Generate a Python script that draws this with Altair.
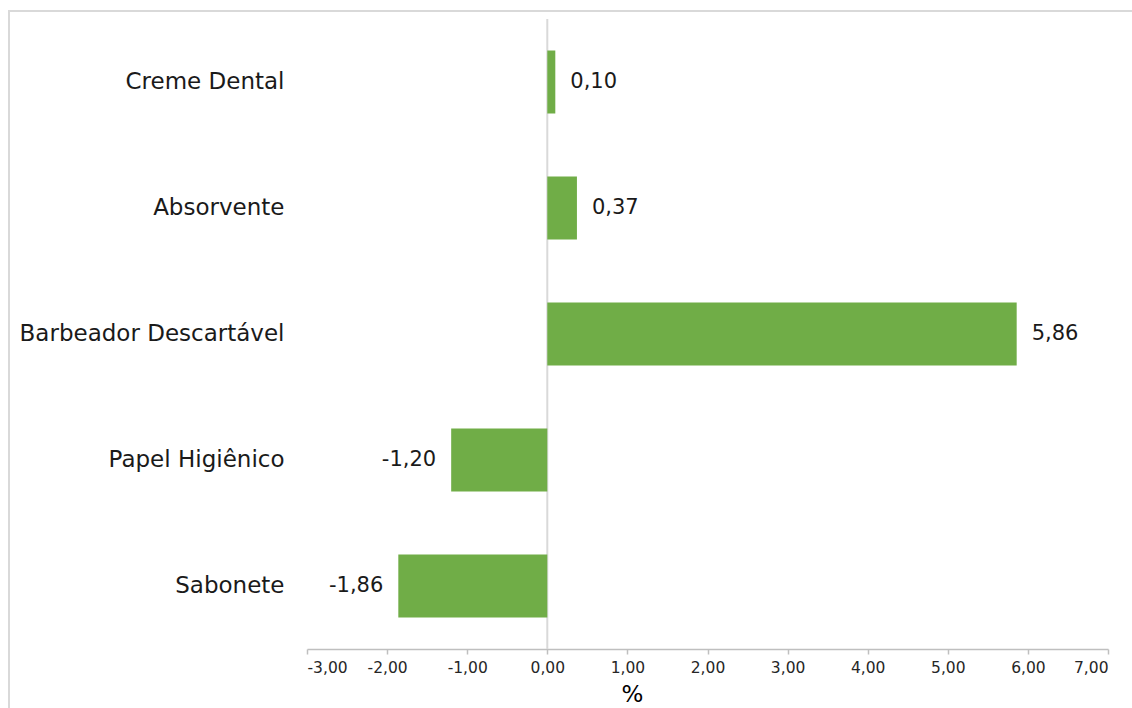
import altair as alt
import pandas as pd

categories = ["Creme Dental", "Absorvente", "Barbeador Descartável", "Papel Higiênico", "Sabonete"]
values = [0.10, 0.37, 5.86, -1.20, -1.86]
x_ticks = [-3, -2, -1, 0, 1, 2, 3, 4, 5, 6, 7]

df = pd.DataFrame({"cat": categories, "val": values})
df["label"] = [f"{v:.2f}".replace(".", ",") for v in values]

FONT = "DejaVu Sans"
W, H = 801, 630
GREEN = "#70AD47"

x_scale = alt.Scale(domain=[-3, 7], nice=False, zero=False)
y_scale = alt.Scale(domain=categories, paddingInner=0.5, paddingOuter=0.25)

base = alt.Chart(df)

bars = base.mark_bar(color=GREEN).encode(
    x=alt.X("val:Q", scale=x_scale,
            axis=alt.Axis(values=x_ticks, grid=False, domainColor="#bfbfbf", domainWidth=1.5,
                          tickColor="#bfbfbf", tickWidth=1.5, tickSize=5,
                          labelExpr="replace(replace(format(datum.value, '.2f'), '.', ','), '\u2212', '-')",
                          labelFont=FONT, labelFontSize=15.5, labelColor="#262626", labelPadding=6,
                          title="%", titleFont=FONT, titleFontSize=23, titleFontWeight="normal",
                          titleColor="#000000", titleX=325, titleY=34, titleAlign="center",
                          titleBaseline="top")),
    x2=alt.datum(0),
    y=alt.Y("cat:N", scale=y_scale, sort=categories,
            axis=alt.Axis(domain=False, ticks=False, labelFont=FONT, labelFontSize=23,
                          labelColor="#1a1a1a", labelPadding=23, title=None, labelLimit=400)),
)

zero_rule = alt.Chart(pd.DataFrame({"z": [0]})).mark_rule(color="#d9d9d9", strokeWidth=2).encode(
    x=alt.X("z:Q", scale=x_scale),
    y=alt.value(0),
    y2=alt.value(H),
)

pos_text = base.transform_filter("datum.val >= 0").mark_text(
    align="left", baseline="middle", dx=15, font=FONT, fontSize=21, color="#1a1a1a"
).encode(
    x=alt.X("val:Q", scale=x_scale),
    y=alt.Y("cat:N", scale=y_scale, sort=categories),
    text="label:N",
)

neg_text = base.transform_filter("datum.val < 0").mark_text(
    align="right", baseline="middle", dx=-15, font=FONT, fontSize=21, color="#1a1a1a"
).encode(
    x=alt.X("val:Q", scale=x_scale),
    y=alt.Y("cat:N", scale=y_scale, sort=categories),
    text="label:N",
)

border = alt.Chart(pd.DataFrame({"a": [0]})).mark_rect(
    fillOpacity=0, stroke="#d9d9d9", strokeWidth=2
).encode(
    x=alt.value(-298), x2=alt.value(860), y=alt.value(-8), y2=alt.value(720)
)

chart = alt.layer(border, zero_rule, bars, pos_text, neg_text).properties(
    width=W, height=H,
    autosize=alt.AutoSizeParams(type="none"),
    padding={"left": 307, "top": 19, "right": 24, "bottom": 59},
).configure_view(stroke=None)

chart.save("out.html", embed_options={"renderer": "svg", "actions": False})
